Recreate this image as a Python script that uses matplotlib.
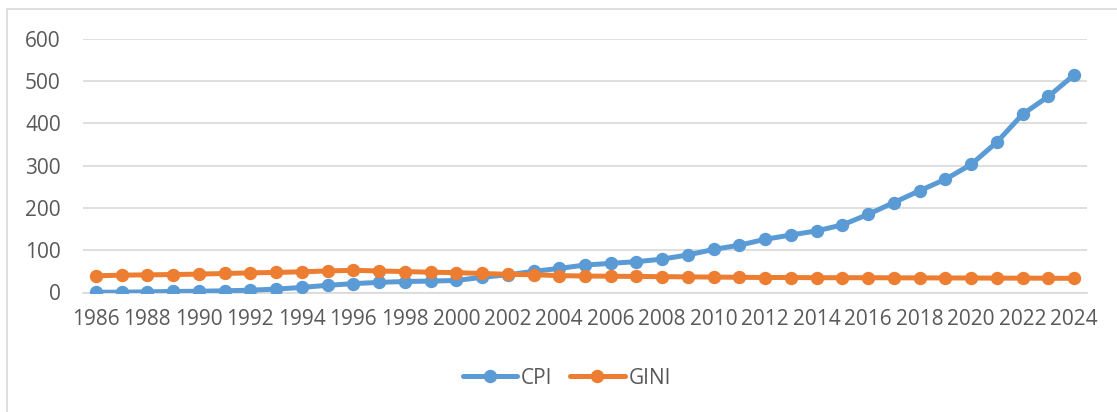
import matplotlib
matplotlib.use("Agg")
import matplotlib.pyplot as plt
from matplotlib.patches import Rectangle

years = list(range(1986, 2025))
cpi = [0.5, 0.8, 1.5, 2.5, 3, 4, 5.5, 8, 12, 17, 21, 24, 26, 27, 28.5,
       36, 42, 50, 57, 65, 69, 73, 79, 89, 102, 112, 126, 136, 146, 160,
       185, 213, 241, 268, 303, 356, 422, 464, 515]
gini = [39.5, 41, 41.8, 42.5, 43.5, 45, 46.5, 47.5, 49, 51, 52.5, 51, 49.5,
        48, 47, 45, 43, 42, 40, 39, 38.5, 38, 37.5, 37, 36.5, 36, 35.5, 35.5,
        35, 35, 35, 34.8, 34.5, 34.5, 34.3, 34, 34, 33.8, 33.5]
tick_years = years[::2]
y_ticks = [0, 100, 200, 300, 400, 500, 600]

text_color = "#595959"
grid_color = "#d9d9d9"

plt.rcParams['font.family'] = ['Open Sans', 'DejaVu Sans']

fig = plt.figure(figsize=(11.17, 4.12), dpi=100)
ax = fig.add_axes([83 / 1117, 1 - 292.5 / 412, (1087 - 83) / 1117, (292.5 - 39) / 412])

ax.plot(years, cpi, color="#5B9BD5", lw=3.6, marker="o", ms=8.6,
        label="CPI", solid_capstyle="round", zorder=3)
ax.plot(years, gini, color="#ED7D31", lw=3.6, marker="o", ms=8.6,
        label="GINI", solid_capstyle="round", zorder=3)

ax.set_xlim(1985.5, 2024.5)
ax.set_ylim(0, 600)
ax.set_xticks(tick_years)
ax.set_yticks(y_ticks)
ax.tick_params(axis="both", length=0, labelsize=15, colors=text_color)
ax.tick_params(axis="x", pad=12)
ax.tick_params(axis="y", pad=16)
ax.yaxis.grid(True, color=grid_color, lw=1.2)
ax.set_axisbelow(True)
for side in ["top", "right", "left"]:
    ax.spines[side].set_visible(False)
ax.spines["bottom"].set_color(grid_color)
ax.spines["bottom"].set_linewidth(1.2)

fig.legend(loc="center", bbox_to_anchor=(567 / 1117, 1 - 378 / 412), ncol=2,
           frameon=False, fontsize=15, labelcolor=text_color,
           handlelength=2.6, handletextpad=0.2, columnspacing=0.85)

# chart area border (only left and top edges fall inside the image)
fig.patches.append(Rectangle((7 / 1117, -0.1), 1.2, 1 - 9 / 412 + 0.1,
                             transform=fig.transFigure, fill=False,
                             edgecolor=grid_color, lw=1.2))

plt.savefig("out.png", dpi=100)
